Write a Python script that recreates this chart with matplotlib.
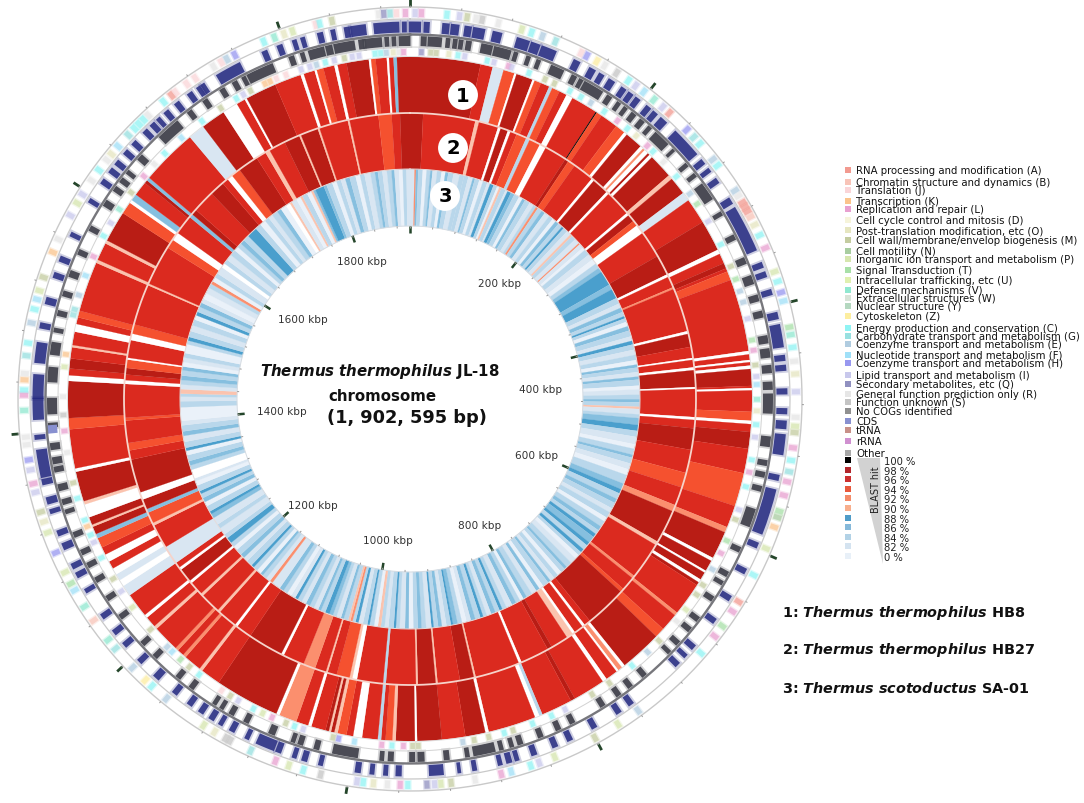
import numpy as np
import matplotlib
matplotlib.use("Agg")
import matplotlib.pyplot as plt
from matplotlib.patches import Polygon, Rectangle

genome_kbp = 1902.595

# BLAST rings: (start kbp, hit %) read clockwise from the top, hit 1 = no hit (white)
ring1 = [
    (0, 98), (63, 96), (74, 82), (84, 94), (94, 1), (96, 98), (111, 1), (113, 94), (119, 96), (127, 84),
    (130, 94), (137, 96), (144, 1), (150, 96), (174, 100), (175, 94), (180, 96), (196, 94), (205, 1), (208, 98),
    (224, 1), (227, 92), (229, 1), (233, 98), (235, 1), (238, 98), (260, 90), (264, 98), (280, 82), (288, 96),
    (311, 98), (339, 1), (343, 96), (352, 98), (357, 96), (360, 94), (368, 96), (433, 1), (436, 96), (441, 1),
    (443, 96), (446, 1), (449, 98), (464, 96), (466, 1), (468, 96), (487, 94), (495, 1), (498, 96), (505, 98),
    (520, 96), (542, 94), (572, 96), (592, 92), (597, 98), (622, 1), (625, 98), (635, 1), (637, 98), (644, 1),
    (647, 98), (650, 96), (680, 92), (683, 96), (699, 94), (708, 98), (746, 1), (749, 92), (753, 1), (755, 96),
    (766, 1), (770, 96), (799, 98), (803, 96), (831, 84), (834, 1), (838, 96), (881, 1), (884, 98), (902, 96),
    (923, 98), (945, 1), (947, 98), (964, 90), (967, 94), (973, 96), (977, 84), (980, 96), (994, 1), (1002, 96),
    (1008, 94), (1016, 90), (1019, 98), (1022, 90), (1024, 98), (1027, 96), (1040, 1), (1043, 96), (1054, 92), (1070, 1),
    (1073, 98), (1131, 96), (1149, 90), (1152, 96), (1168, 92), (1171, 96), (1177, 92), (1180, 96), (1204, 90), (1207, 96),
    (1217, 1), (1220, 96), (1242, 82), (1252, 1), (1258, 82), (1264, 1), (1270, 96), (1277, 1), (1284, 96), (1291, 94),
    (1300, 86), (1304, 98), (1311, 90), (1313, 98), (1320, 1), (1332, 90), (1335, 98), (1362, 1), (1365, 96), (1400, 94),
    (1410, 98), (1443, 1), (1448, 96), (1454, 98), (1463, 96), (1473, 90), (1475, 96), (1487, 1), (1494, 96), (1500, 94),
    (1506, 96), (1551, 90), (1554, 96), (1570, 90), (1573, 98), (1601, 94), (1612, 1), (1615, 86), (1621, 96), (1634, 98),
    (1637, 86), (1640, 96), (1691, 82), (1706, 98), (1728, 1), (1742, 96), (1750, 1), (1752, 98), (1780, 96), (1804, 1),
    (1807, 96), (1817, 1), (1819, 94), (1825, 96), (1835, 1), (1838, 96), (1846, 98), (1866, 1), (1868, 94), (1872, 96),
    (1882, 1), (1884, 96), (1888, 86), (1891, 98),
]

ring2 = [
    (0, 98), (14, 96), (70, 90), (74, 96), (95, 1), (98, 98), (106, 1), (109, 96), (116, 94), (127, 84),
    (131, 94), (143, 1), (150, 96), (174, 98), (178, 94), (186, 96), (209, 1), (212, 98), (230, 1), (233, 96),
    (261, 1), (264, 98), (272, 94), (278, 1), (288, 96), (317, 98), (339, 1), (342, 96), (354, 92), (356, 96),
    (403, 1), (406, 98), (420, 96), (432, 1), (434, 96), (442, 1), (445, 98), (463, 1), (465, 96), (495, 1),
    (498, 96), (507, 98), (530, 96), (555, 94), (571, 96), (591, 92), (598, 98), (634, 90), (638, 96), (678, 92),
    (681, 96), (696, 94), (700, 98), (745, 96), (752, 1), (755, 96), (765, 1), (768, 90), (775, 96), (794, 98),
    (799, 96), (830, 1), (833, 96), (881, 90), (883, 98), (898, 96), (922, 90), (924, 98), (943, 90), (945, 96),
    (977, 84), (980, 96), (1008, 1), (1013, 90), (1016, 94), (1030, 96), (1040, 90), (1042, 96), (1054, 92), (1067, 96),
    (1090, 1), (1093, 98), (1131, 96), (1148, 1), (1151, 96), (1172, 90), (1175, 96), (1197, 90), (1200, 96), (1215, 1),
    (1218, 98), (1233, 1), (1236, 96), (1242, 82), (1262, 96), (1288, 90), (1291, 94), (1303, 86), (1307, 98), (1318, 1),
    (1326, 98), (1362, 96), (1372, 94), (1380, 96), (1404, 94), (1407, 96), (1443, 1), (1447, 96), (1453, 98), (1460, 94),
    (1469, 1), (1471, 96), (1490, 1), (1497, 94), (1507, 96), (1551, 90), (1553, 96), (1596, 94), (1606, 1), (1615, 96),
    (1636, 86), (1640, 98), (1646, 96), (1670, 98), (1686, 96), (1693, 1), (1699, 94), (1709, 98), (1731, 96), (1742, 90),
    (1747, 96), (1765, 98), (1782, 90), (1784, 98), (1803, 90), (1805, 96), (1836, 90), (1838, 96), (1869, 94), (1883, 96),
    (1892, 98),
]

ring3 = [
    (0, 82), (6, 92), (8, 86), (11, 84), (17, 0), (22, 84), (27, 86), (30, 82), (36, 84), (42, 0),
    (47, 86), (51, 84), (58, 82), (66, 84), (72, 84), (78, 82), (84, 86), (87, 84), (93, 0), (98, 84),
    (104, 82), (108, 88), (113, 84), (118, 0), (121, 90), (124, 84), (130, 82), (133, 88), (138, 86), (143, 84),
    (150, 0), (155, 86), (159, 84), (166, 82), (172, 84), (176, 92), (179, 84), (185, 86), (190, 82), (197, 84),
    (203, 0), (208, 86), (213, 84), (219, 88), (222, 84), (228, 82), (234, 90), (237, 84), (243, 82), (250, 92),
    (252, 82), (258, 0), (262, 84), (270, 82), (278, 0), (285, 84), (292, 86), (298, 88), (318, 86), (325, 88),
    (338, 84), (346, 82), (352, 86), (358, 84), (364, 88), (367, 84), (372, 0), (378, 86), (384, 84), (392, 82),
    (398, 88), (403, 84), (410, 82), (417, 84), (424, 0), (430, 86), (434, 84), (440, 82), (446, 86), (450, 84),
    (458, 0), (463, 82), (470, 84), (476, 86), (480, 84), (486, 90), (489, 82), (496, 84), (501, 86), (510, 88),
    (518, 84), (526, 82), (536, 0), (542, 84), (550, 86), (554, 84), (562, 82), (570, 0), (578, 84), (590, 86),
    (598, 88), (604, 84), (612, 86), (618, 84), (626, 82), (632, 84), (640, 0), (646, 84), (654, 86), (660, 84),
    (666, 88), (671, 86), (680, 88), (685, 84), (692, 88), (697, 84), (702, 0), (708, 82), (716, 84), (724, 86),
    (728, 84), (734, 0), (740, 84), (746, 82), (752, 86), (756, 84), (764, 0), (770, 86), (775, 82), (782, 84),
    (790, 86), (795, 0), (800, 84), (806, 86), (812, 82), (820, 84), (826, 88), (830, 84), (836, 86), (842, 82),
    (848, 84), (853, 88), (857, 84), (864, 86), (870, 82), (876, 0), (882, 84), (888, 86), (894, 88), (897, 84),
    (903, 82), (909, 86), (914, 84), (920, 88), (923, 82), (930, 84), (936, 86), (941, 84), (947, 0), (953, 86),
    (958, 82), (965, 84), (970, 88), (973, 84), (980, 82), (985, 84), (990, 90), (994, 0), (999, 84), (1005, 88),
    (1008, 84), (1014, 82), (1020, 88), (1024, 84), (1028, 92), (1031, 90), (1034, 84), (1040, 86), (1044, 82), (1050, 84),
    (1055, 86), (1060, 88), (1066, 84), (1072, 86), (1076, 82), (1082, 84), (1088, 86), (1094, 82), (1100, 84), (1106, 88),
    (1110, 82), (1116, 0), (1122, 84), (1128, 86), (1134, 82), (1146, 92), (1150, 82), (1156, 84), (1162, 86), (1166, 0),
    (1172, 84), (1178, 88), (1182, 84), (1190, 82), (1196, 86), (1202, 84), (1210, 0), (1216, 84), (1222, 88), (1230, 84),
    (1236, 82), (1246, 84), (1252, 82), (1262, 86), (1268, 88), (1272, 84), (1280, 0), (1286, 86), (1292, 84), (1298, 88),
    (1302, 84), (1310, 0), (1316, 82), (1320, 1), (1332, 84), (1338, 86), (1344, 84), (1352, 0), (1358, 88), (1362, 84),
    (1370, 82), (1378, 86), (1384, 84), (1392, 82), (1398, 0), (1416, 84), (1424, 82), (1430, 84), (1434, 90), (1440, 82),
    (1446, 84), (1452, 86), (1458, 84), (1465, 86), (1470, 0), (1476, 82), (1482, 84), (1488, 0), (1500, 84), (1505, 88),
    (1510, 84), (1518, 82), (1526, 84), (1534, 0), (1540, 88), (1545, 84), (1552, 86), (1558, 82), (1564, 0), (1572, 82),
    (1580, 84), (1586, 92), (1590, 0), (1596, 84), (1602, 82), (1612, 1), (1618, 84), (1624, 82), (1632, 84), (1640, 0),
    (1646, 84), (1652, 86), (1658, 84), (1666, 88), (1680, 84), (1688, 0), (1696, 84), (1702, 82), (1708, 84), (1716, 86),
    (1722, 0), (1730, 1), (1736, 90), (1739, 82), (1746, 0), (1752, 90), (1755, 84), (1762, 0), (1768, 90), (1771, 86),
    (1774, 88), (1786, 86), (1790, 84), (1798, 0), (1804, 84), (1810, 82), (1816, 86), (1822, 84), (1830, 0), (1836, 84),
    (1842, 82), (1850, 84), (1856, 86), (1860, 84), (1866, 82), (1872, 84), (1878, 86), (1882, 82), (1888, 0), (1893, 84),
    (1898, 82),
]

# dark navy genes, forward strand: (start kbp, length kbp)
cds_forward = [
    (0, 8), (12, 3), (27, 4), (34, 5), (45, 4), (52, 8), (68, 6), (88, 9), (100, 6), (109, 11),
    (137, 4), (151, 4), (160, 3), (169, 4), (181, 3), (188, 3), (195, 3), (206, 3), (213, 3), (221, 5),
    (237, 24), (268, 3), (277, 2), (287, 3), (306, 4), (315, 37), (364, 3), (372, 3), (387, 3), (406, 4),
    (416, 17), (441, 3), (449, 3), (468, 3), (484, 3), (494, 5), (505, 15), (538, 3), (550, 36), (595, 3),
    (618, 3), (643, 3), (665, 3), (692, 3), (702, 2), (711, 3), (760, 3), (772, 3), (795, 3), (817, 3),
    (830, 3), (848, 3), (863, 2), (869, 3), (877, 2), (898, 2), (911, 1), (925, 10), (959, 3), (970, 2),
    (981, 2), (992, 3), (1023, 2), (1036, 3), (1045, 2), (1058, 3), (1064, 14), (1086, 2), (1099, 3), (1110, 2),
    (1118, 3), (1128, 3), (1139, 3), (1154, 3), (1173, 4), (1192, 3), (1210, 3), (1223, 3), (1239, 3), (1264, 2),
    (1278, 3), (1286, 3), (1303, 4), (1315, 3), (1334, 2), (1342, 4), (1358, 3), (1364, 21), (1395, 2), (1411, 16),
    (1428, 18), (1457, 15), (1485, 3), (1505, 4), (1527, 3), (1541, 3), (1563, 2), (1594, 2), (1612, 3), (1623, 3),
    (1631, 3), (1642, 3), (1652, 3), (1665, 3), (1673, 3), (1680, 2), (1688, 3), (1699, 3), (1712, 3), (1721, 2),
    (1725, 2), (1740, 20), (1781, 3), (1794, 3), (1807, 2), (1814, 2), (1828, 3), (1839, 2), (1850, 3), (1855, 11),
    (1874, 19), (1897, 2),
]

# dark grey genes, reverse strand
cds_reverse = [
    (10, 3), (16, 10), (31, 2), (37, 2), (42, 2), (48, 3), (61, 8), (72, 13), (89, 2), (100, 2),
    (109, 2), (122, 10), (141, 3), (148, 2), (153, 16), (175, 3), (185, 2), (192, 2), (200, 3), (209, 3),
    (218, 2), (226, 13), (246, 1), (262, 2), (273, 2), (284, 14), (312, 2), (334, 3), (355, 4), (371, 6),
    (388, 4), (402, 4), (423, 5), (434, 6), (448, 5), (462, 5), (472, 15), (508, 7), (528, 3), (538, 3),
    (550, 3), (570, 14), (604, 3), (627, 3), (636, 2), (651, 3), (672, 3), (683, 3), (698, 3), (709, 2),
    (737, 3), (752, 3), (764, 3), (780, 3), (809, 3), (822, 3), (838, 3), (856, 3), (864, 2), (873, 2),
    (880, 17), (902, 2), (919, 3), (940, 4), (948, 3), (966, 3), (974, 2), (996, 20), (1029, 3), (1043, 3),
    (1050, 2), (1068, 4), (1092, 3), (1106, 3), (1116, 2), (1123, 2), (1146, 3), (1160, 3), (1186, 3), (1201, 3),
    (1230, 3), (1249, 3), (1267, 3), (1281, 3), (1293, 3), (1309, 3), (1330, 2), (1338, 3), (1350, 4), (1366, 3),
    (1373, 4), (1385, 4), (1404, 2), (1415, 12), (1442, 11), (1465, 9), (1484, 2), (1498, 3), (1515, 3), (1532, 4),
    (1552, 3), (1574, 3), (1598, 4), (1613, 3), (1622, 3), (1631, 2), (1646, 4), (1672, 19), (1703, 3), (1719, 3),
    (1736, 3), (1748, 3), (1757, 2), (1762, 22), (1800, 3), (1810, 2), (1817, 12), (1832, 4), (1839, 16), (1860, 3),
    (1865, 13), (1882, 2), (1888, 2), (1894, 8),
]

# pastel COG tracks: (gene position kbp, COG letter)
cog_outer = [
    (2, 'I'), (7, 'L'), (27, 'C'), (37, 'I'), (43, 'M'), (50, 'R'), (55, 'S'), (68, 'R'), (87, 'P'), (95, 'C'),
    (104, 'E'), (115, 'G'), (137, 'J'), (142, 'H'), (151, 'Z'), (158, 'R'), (169, 'S'), (180, 'C'), (187, 'I'), (195, 'F'),
    (205, 'V'), (214, 'I'), (221, 'A'), (240, 'H'), (248, 'G'), (255, 'C'), (271, 'E'), (277, 'C'), (301, 'E'), (306, 'R'),
    (312, 'A'), (316, 'A'), (320, 'A'), (325, 'B'), (332, 'O'), (341, 'C'), (352, 'L'), (372, 'P'), (380, 'C'), (389, 'H'),
    (396, 'F'), (417, 'T'), (423, 'V'), (433, 'C'), (444, 'R'), (454, 'O'), (468, 'I'), (488, 'R'), (495, 'P'), (500, 'M'),
    (512, 'L'), (522, 'C'), (531, 'G'), (539, 'L'), (550, 'L'), (563, 'T'), (568, 'N'), (576, 'K'), (594, 'P'), (617, 'C'),
    (641, 'A'), (650, 'L'), (664, 'T'), (674, 'L'), (691, 'C'), (758, 'E'), (777, 'P'), (798, 'M'), (833, 'P'), (846, 'I'),
    (853, 'C'), (869, 'F'), (877, 'L'), (898, 'R'), (917, 'M'), (925, 'P'), (930, 'I'), (936, 'Q'), (951, 'C'), (957, 'L'),
    (967, 'R'), (978, 'O'), (986, 'C'), (991, 'I'), (1020, 'S'), (1034, 'C'), (1046, 'P'), (1057, 'L'), (1078, 'G'), (1096, 'S'),
    (1100, 'S'), (1110, 'O'), (1120, 'P'), (1156, 'E'), (1171, 'C'), (1178, 'Z'), (1192, 'E'), (1212, 'G'), (1221, 'V'), (1240, 'B'),
    (1253, 'V'), (1268, 'F'), (1274, 'T'), (1284, 'P'), (1301, 'H'), (1318, 'P'), (1327, 'O'), (1335, 'M'), (1351, 'I'), (1358, 'L'),
    (1369, 'I'), (1377, 'H'), (1389, 'R'), (1395, 'R'), (1416, 'V'), (1428, 'L'), (1432, 'C'), (1440, 'K'), (1445, 'R'), (1459, 'G'),
    (1469, 'C'), (1485, 'E'), (1496, 'C'), (1504, 'F'), (1511, 'P'), (1522, 'M'), (1543, 'K'), (1554, 'R'), (1575, 'I'), (1586, 'P'),
    (1594, 'I'), (1607, 'R'), (1617, 'C'), (1627, 'R'), (1633, 'O'), (1641, 'F'), (1653, 'G'), (1660, 'C'), (1665, 'C'), (1670, 'C'),
    (1675, 'R'), (1691, 'C'), (1699, 'A'), (1703, 'J'), (1714, 'J'), (1722, 'J'), (1739, 'R'), (1746, 'J'), (1751, 'E'), (1758, 'H'),
    (1783, 'C'), (1792, 'V'), (1800, 'O'), (1807, 'P'), (1826, 'J'), (1829, 'C'), (1839, 'M'), (1876, 'R'), (1880, 'Q'), (1885, 'G'),
    (1890, 'J'), (1897, 'L'),
]

cog_inner = [
    (8, 'Q'), (16, 'M'), (21, 'M'), (32, 'O'), (40, 'C'), (46, 'I'), (66, 'C'), (72, 'I'), (85, 'L'), (88, 'I'),
    (104, 'C'), (119, 'M'), (128, 'M'), (143, 'C'), (154, 'C'), (164, 'E'), (178, 'C'), (192, 'L'), (203, 'C'), (213, 'O'),
    (226, 'L'), (233, 'C'), (246, 'R'), (263, 'C'), (282, 'E'), (293, 'T'), (311, 'I'), (334, 'C'), (355, 'M'), (367, 'T'),
    (378, 'E'), (388, 'E'), (403, 'I'), (422, 'T'), (431, 'L'), (444, 'M'), (454, 'I'), (461, 'F'), (474, 'V'), (484, 'O'),
    (496, 'C'), (507, 'I'), (527, 'C'), (538, 'L'), (551, 'C'), (572, 'I'), (581, 'M'), (601, 'T'), (613, 'L'), (629, 'E'),
    (645, 'M'), (655, 'M'), (671, 'P'), (684, 'R'), (707, 'M'), (721, 'E'), (739, 'C'), (764, 'M'), (782, 'M'), (809, 'I'),
    (822, 'C'), (840, 'C'), (858, 'M'), (866, 'C'), (880, 'M'), (893, 'M'), (903, 'E'), (942, 'M'), (947, 'M'), (955, 'L'),
    (965, 'C'), (974, 'L'), (998, 'F'), (1012, 'H'), (1017, 'M'), (1044, 'I'), (1052, 'C'), (1060, 'M'), (1073, 'L'), (1082, 'P'),
    (1091, 'C'), (1106, 'I'), (1114, 'M'), (1123, 'J'), (1147, 'C'), (1158, 'M'), (1168, 'T'), (1178, 'F'), (1184, 'E'), (1205, 'M'),
    (1230, 'P'), (1247, 'I'), (1260, 'M'), (1281, 'C'), (1296, 'I'), (1303, 'C'), (1311, 'K'), (1317, 'C'), (1337, 'C'), (1351, 'M'),
    (1378, 'R'), (1397, 'L'), (1411, 'S'), (1427, 'R'), (1453, 'P'), (1464, 'K'), (1499, 'G'), (1504, 'G'), (1517, 'E'), (1535, 'F'),
    (1553, 'L'), (1573, 'C'), (1586, 'I'), (1600, 'V'), (1618, 'M'), (1636, 'L'), (1650, 'R'), (1663, 'C'), (1683, 'F'), (1706, 'C'),
    (1726, 'M'), (1742, 'C'), (1749, 'I'), (1756, 'M'), (1770, 'K'), (1775, 'K'), (1781, 'J'), (1790, 'J'), (1804, 'I'), (1812, 'I'),
    (1818, 'E'), (1826, 'C'), (1834, 'I'), (1843, 'M'), (1850, 'I'), (1856, 'I'), (1870, 'C'), (1875, 'C'), (1880, 'E'), (1886, 'O'),
    (1891, 'R'), (1895, 'L'),
]

# odd slate-blue block sitting in the reverse strand track
cds_block_kbp = [1398]

major_ticks = [0, 200, 400, 600, 800, 1000, 1200, 1400, 1600, 1800]
minor_ticks = list(range(0, 1900, 40))

tick_labels = ["200 kbp", "400 kbp", "600 kbp", "800 kbp", "1000 kbp", "1200 kbp", "1400 kbp", "1600 kbp", "1800 kbp"]
tick_label_xy = [(500, 284), (541, 390), (537, 456), (480, 526), (388, 541), (313, 506), (282, 412), (303, 320), (362, 262)]

hit_colors = {
    100: "#000000", 98: "#b91d15", 96: "#db2a1f", 94: "#f5512f", 92: "#fb8f6e", 90: "#fbc3ae",
    88: "#4a9fcd", 86: "#86bfdf", 84: "#b9d7eb", 82: "#d9e6f2", 0: "#eaf1f9", 1: "#ffffff",
}

cog_names = [
    "RNA processing and modification (A)", "Chromatin structure and dynamics (B)", "Translation (J)",
    "Transcription (K)", "Replication and repair (L)", "Cell cycle control and mitosis (D)",
    "Post-translation modification, etc (O)", "Cell wall/membrane/envelop biogenesis (M)", "Cell motility (N)",
    "Inorganic ion transport and metabolism (P)", "Signal Transduction (T)", "Intracellular trafficking, etc (U)",
    "Defense mechanisms (V)", "Extracellular structures (W)", "Nuclear structure (Y)", "Cytoskeleton (Z)",
    "Energy production and conservation (C)", "Carbohydrate transport and metabolism (G)",
    "Coenzyme transport and metabolism (E)", "Nucleotide transport and metabolism (F)",
    "Coenzyme transport and metabolism (H)", "Lipid transport and metabolism (I)", "Secondary metabolites, etc (Q)",
    "General function prediction only (R)", "Function unknown (S)", "No COGs identified", "CDS", "tRNA", "rRNA", "Other",
]
cog_swatches = [
    "#f29a90", "#f8c4b8", "#fad5d8", "#fbc48c", "#e8a0d0", "#f6f4da", "#e6e6c0", "#c4cca0", "#a8cda0", "#d6e6ae",
    "#a8e0a8", "#e0f0b0", "#90e8d0", "#d8e4d8", "#b4d8c0", "#fdeea0", "#90f4f4", "#98e0e0", "#b0cce0", "#a0e0f8",
    "#9898f0", "#c8c8ec", "#9090c0", "#e6e6e6", "#c4c4c4", "#909090", "#8890d0", "#c89088", "#d090d0", "#a8a8a8",
]
cog_text_y = [171, 183, 191, 202, 210, 221, 231, 241, 252, 260, 271, 281, 291, 299, 307, 317, 329, 337, 345, 356,
              364, 376, 385, 395, 403, 412, 422, 431, 442, 454]
cog_letters = "ABJKLDOMNPTUVWYZCGEFHIQRSX"
cog_colors = dict(zip(cog_letters, cog_swatches))

blast_labels = ["100 %", "98 %", "96 %", "94 %", "92 %", "90 %", "88 %", "86 %", "84 %", "82 %", "0 %"]
blast_swatches = ["#000000", "#b2262c", "#cc3030", "#e8583c", "#f48a68", "#f8ae8c",
                  "#4f9cc8", "#86b9da", "#b2d2e6", "#d4e3f0", "#e8f0f8"]
blast_y = [462, 472, 481, 491, 500, 510, 520, 529, 539, 548, 558]

strain_ids = ["1: ", "2: ", "3: "]
strain_names = ["Thermus\\ thermophilus", "Thermus\\ thermophilus", "Thermus\\ scotoductus"]
strain_tags = [" HB8", " HB27", " SA-01"]
strain_y = [613, 650, 689]

W, H = 1084, 804


def to_theta(kbp):
    return np.asarray(kbp, dtype=float) / genome_kbp * 2 * np.pi


def draw_ring(ax, segments, r_in, r_out):
    pos, hit = zip(*segments)
    pos = np.array(pos, dtype=float)
    ends = np.append(pos[1:], genome_kbp)
    colors = [hit_colors[h] for h in hit]
    ax.bar(to_theta(pos), r_out - r_in, width=to_theta(ends - pos), bottom=r_in, align="edge",
           color=colors, edgecolor=colors, linewidth=0.15)


def draw_genes(ax, genes, r_mid, height, color):
    pos, length = zip(*genes)
    pos = np.array(pos, dtype=float)
    length = np.array(length, dtype=float)
    # soft halo first, the originals are rather blurry
    halo = height + 4
    ax.bar(to_theta(pos - 2.5), halo, width=to_theta(length + 5), bottom=r_mid - halo / 2,
           align="edge", color=color, alpha=0.22, linewidth=0)
    ax.bar(to_theta(pos - 1), height, width=to_theta(length + 2), bottom=r_mid - height / 2,
           align="edge", color=color, alpha=0.85, linewidth=0)


def draw_cogs(ax, genes, r_mid, height):
    pos, letters = zip(*genes)
    colors = [cog_colors[c] for c in letters]
    ax.bar(to_theta(np.array(pos) - 1), height + 2, width=to_theta(6), bottom=r_mid - (height + 2) / 2,
           align="edge", color=colors, alpha=0.3, linewidth=0)
    ax.bar(to_theta(pos), height, width=to_theta(4), bottom=r_mid - height / 2, align="edge",
           color=colors, alpha=0.65, linewidth=0)


def arc(ax, r, color, lw):
    t = np.linspace(0, 2 * np.pi, 720)
    ax.plot(t, np.full_like(t, r), color=color, lw=lw, zorder=5)


def px(x, y):
    return x / W, 1 - y / H


plt.rcParams["font.family"] = "DejaVu Sans"
fig = plt.figure(figsize=(W / 100, H / 100), dpi=100)
ax = fig.add_axes([10 / W, 4 / H, 800 / W, 800 / H], projection="polar")
ax.set_theta_zero_location("N")
ax.set_theta_direction(-1)
ax.set_ylim(0, 400)
ax.axis("off")

draw_ring(ax, ring3, 173, 230)
draw_ring(ax, ring2, 230, 286)
draw_ring(ax, ring1, 286, 342)

draw_cogs(ax, cog_outer, 386, 8)
draw_cogs(ax, cog_inner, 347, 6)
draw_genes(ax, cds_forward, 372, 11, "#23287f")
draw_genes(ax, cds_reverse, 358, 10, "#33343f")
ax.bar(to_theta(cds_block_kbp), 11, width=to_theta(7), bottom=354, align="edge", color="#8890d0", linewidth=0)

arc(ax, 392, "#c9c9c9", 1.0)
arc(ax, 380, "#c9c9c9", 0.9)
arc(ax, 364.5, "#77777c", 1.7)
arc(ax, 352, "#d2d2d2", 0.7)
arc(ax, 342.5, "#dddddd", 0.6)
arc(ax, 286, "#f6d3ca", 1.3)
arc(ax, 230, "#e4dcdc", 0.7)
arc(ax, 173, "#d6dce2", 0.7)

ax.vlines(to_theta(major_ticks), 393, 400, color="#24452a", lw=2.0, clip_on=False, zorder=6)
ax.vlines(to_theta(major_ticks), 166, 173, color="#24452a", lw=1.8, zorder=6)
ax.vlines(to_theta(minor_ticks), 392, 394, color="#9a9a9a", lw=0.7, zorder=6)
ax.vlines(to_theta(minor_ticks), 171, 173, color="#9a9a9a", lw=0.7, zorder=6)

# number badges on the rings
badges = [("1", 463, 96), ("2", 453, 149), ("3", 445, 197)]
for num, x, y in badges:
    fx, fy = px(x, y)
    fig.text(fx, fy, num, fontsize=14, fontweight="bold", ha="center", va="center", zorder=10,
             bbox=dict(boxstyle="circle,pad=0.28", fc="white", ec="none"))

for label, (x, y) in zip(tick_labels, tick_label_xy):
    fig.text(*px(x, y), label, fontsize=7.6, color="#333333", ha="center", va="center")

fig.text(*px(380, 372), r"$\mathbfit{Thermus\ thermophilus}$ JL-18", fontsize=10.8, fontweight="bold",
         ha="center", va="center", color="#111111")
fig.text(*px(382, 397), "chromosome", fontsize=10.8, fontweight="bold", ha="center", va="center", color="#111111")
fig.text(*px(407, 418), "(1, 902, 595 bp)", fontsize=12.8, fontweight="bold", ha="center", va="center",
         color="#111111")

# legends drawn on a full figure overlay in pixel coordinates
leg = fig.add_axes([0, 0, 1, 1], facecolor="none")
leg.set_xlim(0, W)
leg.set_ylim(H, 0)
leg.axis("off")

for name, color, y in zip(cog_names, cog_swatches, cog_text_y):
    leg.add_patch(Rectangle((845, y - 3), 6, 6, fc=color, ec="none"))
    leg.text(856, y, name, fontsize=7.25, color="#111111", va="center", ha="left")

leg.add_patch(Polygon([(857, 459), (880, 459), (883, 565)], closed=True, fc="#d2d2d2", ec="none"))
leg.text(876, 490, "BLAST hit", fontsize=6.9, rotation=90, ha="center", va="center", color="#222222")
for label, color, y in zip(blast_labels, blast_swatches, blast_y):
    leg.add_patch(Rectangle((845, y - 4), 6, 6, fc=color, ec="none"))
    leg.text(884, y, label, fontsize=7.2, color="#222222", va="center", ha="left")

for sid, name, tag, y in zip(strain_ids, strain_names, strain_tags, strain_y):
    leg.text(782, y, sid + r"$\mathbfit{" + name + "}$" + tag, fontsize=10.4, fontweight="bold",
             va="center", ha="left", color="#111111")

fig.savefig("out.png", dpi=100, facecolor="white")
plt.close(fig)
